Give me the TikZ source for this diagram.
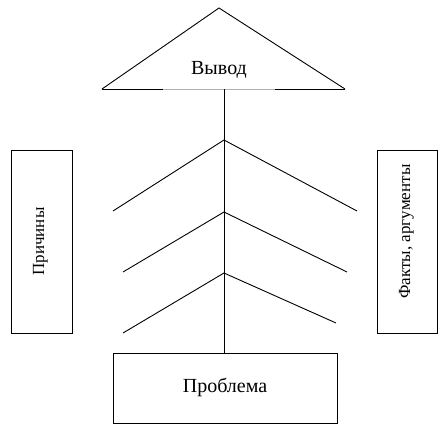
\documentclass[tikz,border=0pt]{standalone}
\usepackage{fontspec}
\setmainfont{Liberation Serif}
\newfontfamily\serifcyr{Liberation Serif}

\begin{document}
\begin{tikzpicture}[x=1pt, y=-1pt, line width=0.9pt,
		box/.style = {draw, rectangle, inner sep=0pt, line width=0.9pt},
		lbl/.style = {font=\serifcyr\fontsize{20}{23}\selectfont},
		side/.style = {font=\serifcyr\fontsize{17}{20}\selectfont}]
		\useasboundingbox (0,0) rectangle (442,425);
		% conclusion triangle
		\coordinate (top) at (219,8);
		\coordinate (bl) at (102,89);
		\coordinate (br) at (345,89);
		\coordinate (gl) at (163,89);
		\coordinate (gr) at (275,89);
		\coordinate (root) at (224,89);
		\draw (bl) -- (top) -- (br);
		\draw (bl) -- (gl);
		\draw[gray!60] (gl) -- (gr);
		\draw (gr) -- (br);
		\node[lbl] (conclusion) at (219,70) {Вывод};
		% boxes
		\node[box, lbl, minimum width=224pt, minimum height=70pt] (problem) at (225,388) {\raisebox{6pt}{Проблема}};
		\node[box, side, rotate=90, minimum width=183pt, minimum height=61pt] (causes) at (41.5,241.5) {\raisebox{6pt}{Причины}};
		\node[box, side, rotate=90, minimum width=183pt, minimum height=60pt] (facts) at (407,241.5) {\raisebox{5pt}{\hspace*{20pt}Факты, аргументы}};
		% trunk and branches
		\draw (root) -- (root |- problem.north);
		\foreach \ay/\lx/\ly/\rx/\ry in {140/113/211/357/211, 212/123/272/347/272, 273/123/333/336/323}
			\draw (\lx,\ly) -- (224,\ay) -- (\rx,\ry);
	\end{tikzpicture}
\end{document}
